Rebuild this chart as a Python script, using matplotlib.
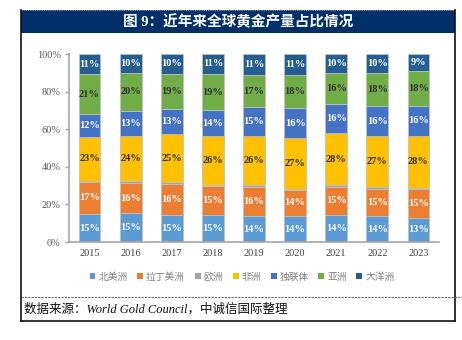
import matplotlib.pyplot as plt
from matplotlib.patches import Rectangle
from matplotlib.lines import Line2D
import numpy as np

years = ['2015', '2016', '2017', '2018', '2019', '2020', '2021', '2022', '2023']
regions = ['北美洲', '拉丁美洲', '欧洲', '非洲', '独联体', '亚洲', '大洋洲']

# share of world gold output, % (each year sums to 100)
north_america = [14.8, 15.2, 14.6, 14.6, 13.8, 13.8, 14.2, 13.6, 12.9]
latin_america = [17.3, 16.4, 16.4, 15.2, 15.7, 14.0, 15.3, 14.7, 15.1]
europe        = [0.6, 0.8, 0.9, 0.7, 0.8, 0.6, 0.7, 0.9, 0.7]
africa        = [23.0, 24.2, 25.3, 25.7, 26.3, 27.0, 27.8, 27.3, 27.8]
cis           = [12.2, 13.2, 13.4, 13.8, 15.0, 15.7, 15.6, 15.6, 16.0]
asia          = [21.4, 20.3, 19.0, 19.4, 17.2, 17.8, 16.4, 17.9, 18.3]
oceania       = [10.7, 9.9, 10.4, 10.6, 11.2, 11.1, 10.0, 10.0, 9.2]

series = [north_america, latin_america, europe, africa, cis, asia, oceania]
colors = ['#5B9BD5', '#ED7D31', '#A5A5A5', '#FFC000', '#4472C4', '#70AD47', '#255E91']
label_colors = ['white', 'white', None, '#333333', 'white', '#333333', 'white']

serif_cjk = ['Liberation Serif', 'Noto Sans CJK SC']
W, H = 462, 340

fig = plt.figure(figsize=(W / 100, H / 100), dpi=100)


def px(x, y):
    return x / W, 1 - y / H


# frame, title bar and footer line
bg = fig.add_axes([0, 0, 1, 1])
bg.set_xlim(0, W)
bg.set_ylim(H, 0)
bg.axis('off')
bg.add_patch(Rectangle((21, 10), 434, 23, facecolor='#00306A', edgecolor='none'))
bg.add_line(Line2D([21, 455], [10, 10], color='#9A9A9A', lw=0.8, ls=(0, (1, 1))))
bg.add_line(Line2D([21, 21], [10, 321], color='#111111', lw=1.2))
bg.add_line(Line2D([455, 455], [10, 321], color='#111111', lw=1.2))
bg.add_line(Line2D([21, 455], [321, 321], color='#111111', lw=1.2))
bg.add_line(Line2D([21, 462], [297, 297], color='#666666', lw=0.8, ls=(0, (2, 1))))
bg.text(238, 21.5, '图 9：近年来全球黄金产量占比情况', color='white', fontsize=10.5,
        fontweight='bold', ha='center', va='center', family=serif_cjk)
bg.text(24, 309, '数据来源：World Gold Council，中诚信国际整理', color='#111111',
        fontsize=9, style='italic', ha='left', va='center', family=serif_cjk)

# stacked bars
ax = fig.add_axes([69 / W, (H - 242) / H, 370 / W, 188 / H])
x = np.arange(len(years))
bottom = np.zeros(len(years))
handles = []
for name, vals, c, lc in zip(regions, series, colors, label_colors):
    vals = np.array(vals)
    bars = ax.bar(x, vals, 0.53, bottom=bottom, color=c, edgecolor='#BFBFBF',
                  linewidth=0.6, label=name, zorder=2)
    handles.append(bars)
    if lc is not None:
        for xi, b, v in zip(x, bottom, vals):
            ax.text(xi, b + v / 2, f'{round(v)}%', color=lc, fontsize=7.5,
                    fontweight='bold', ha='center', va='center',
                    family='Liberation Serif', zorder=3)
    bottom += vals

ax.set_xlim(-0.5, len(years) - 0.5)
ax.set_ylim(0, 100)
ax.set_yticks(range(0, 101, 20))
ax.set_yticklabels([f'{v}%' for v in range(0, 101, 20)], family='Liberation Serif',
                   fontsize=7.5, color='#595959')
ax.set_xticks(x)
ax.set_xticklabels(years, family='Liberation Serif', fontsize=7.5, color='#404040')
ax.tick_params(axis='x', length=0, pad=5)
ax.tick_params(axis='y', length=3, width=1, color='#A6A6A6', pad=3)
for s in ['top', 'right']:
    ax.spines[s].set_visible(False)
for s in ['left', 'bottom']:
    ax.spines[s].set_color('#A6A6A6')
    ax.spines[s].set_linewidth(1.2)
ax.patch.set_alpha(0)

leg = fig.legend(handles=handles, loc='center', bbox_to_anchor=px(242, 277), ncol=7,
                 frameon=False, handlelength=0.6, handleheight=0.6, handletextpad=0.3,
                 columnspacing=1.0, prop={'family': serif_cjk, 'size': 7})
for t in leg.get_texts():
    t.set_color('#808080')
for h in leg.legend_handles:
    h.set_edgecolor('none')

fig.savefig('out.png', dpi=100)
